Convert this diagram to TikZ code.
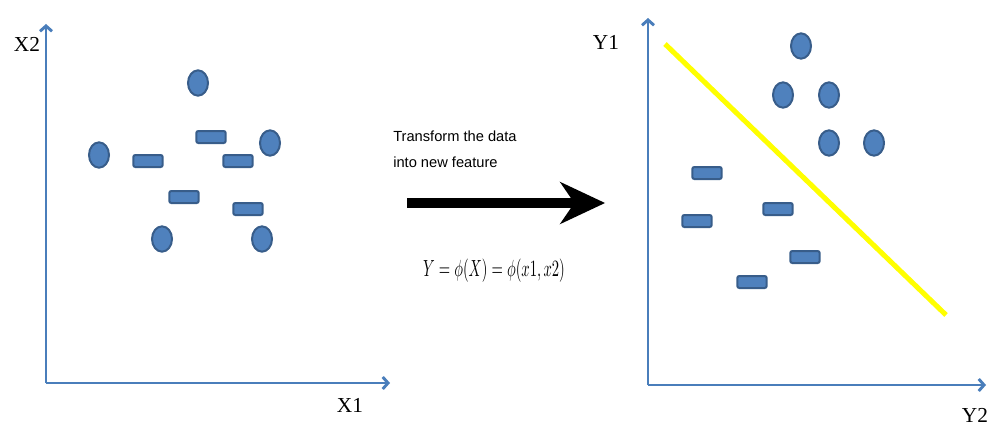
\documentclass[tikz,border=0pt]{standalone}
\usepackage{fontspec}
\setmainfont{Liberation Serif}
\setsansfont{Liberation Sans}
\usetikzlibrary{arrows.meta, shapes.geometric, positioning}

\begin{document}
\begin{tikzpicture}[x=0.75pt, y=-0.75pt,
  pt1/.style={ellipse, draw=borda, fill=ponto, line width=1.5pt, minimum width=15pt, minimum height=19pt, inner sep=0pt},
  pt2/.style={rectangle, rounded corners=1.5pt, draw=borda, fill=ponto, line width=1.5pt, minimum width=22pt, minimum height=9pt, inner sep=0pt},
  eixo/.style={draw=eixoC, line width=2.2pt, -{Straight Barb[length=4pt, width=9pt]}},
  rotulo/.style={font=\fontsize{16}{18}\selectfont}]
% --- CORES ---
\definecolor{eixoC}{HTML}{4A7EBB}
\definecolor{ponto}{HTML}{4F81BD}
\definecolor{borda}{HTML}{385D8A}
\definecolor{reta}{HTML}{FFFF00}

\useasboundingbox (0,0) rectangle (987,428);

% LAYER 1: Eixos da esquerda
\coordinate (oA) at (46,383);
\coordinate (xA) at (390,383);
\coordinate (yA) at (46,24);
\draw[eixo] (oA) -- (xA);
\draw[eixo] (oA) -- (yA);
\node[rotulo] (labX2) at (27,44) {X2};
\node[rotulo] (labX1) at (350,405) {X1};

% LAYER 2: Dados originais
\node[pt1] (a1) at (198,83) {};
\node[pt1] (a2) at (99,155) {};
\node[pt1] (a3) at (270,143) {};
\node[pt1] (a4) at (162,239) {};
\node[pt1] (a5) at (262,239) {};
\node[pt2] (b1) at (148,161) {};
\node[pt2] (b2) at (211,137) {};
\node[pt2] (b3) at (238,161) {};
\node[pt2] (b4) at (184,197) {};
\node[pt2] (b5) at (248,209) {};

% LAYER 3: Seta da transformacao
\node[font=\sffamily\fontsize{11}{13}\selectfont, anchor=base west, inner sep=0pt] (txt1) at (393,141) {Transform the data};
\node[font=\sffamily\fontsize{11}{13}\selectfont, anchor=base west, inner sep=0pt] (txt2) at (393,167) {into new feature};
\coordinate (setaI) at (407,203);
\coordinate (setaF) at (605,203);
\draw[line width=8pt, -{Stealth[length=34pt, width=32pt, inset=11pt, line width=0pt]}] (setaI) -- (setaF);
\node[yscale=1.6, font=\fontsize{11}{13}\selectfont] (form) at (494,271) {$Y = \phi(X) = \phi(x1, x2)$};

% LAYER 4: Eixos da direita
\coordinate (oB) at (648,385);
\coordinate (xB) at (986,385);
\coordinate (yB) at (648,18);
\draw[eixo] (oB) -- (xB);
\draw[eixo] (oB) -- (yB);
\node[rotulo] (labY1) at (606,42) {Y1};
\node[rotulo] (labY2) at (975,415) {Y2};

% LAYER 5: Dados no novo espaco
\node[pt1] (c1) at (801,46) {};
\node[pt1] (c2) at (783,95) {};
\node[pt1] (c3) at (829,95) {};
\node[pt1] (c4) at (829,143) {};
\node[pt1] (c5) at (874,143) {};
\node[pt2] (d1) at (707,173) {};
\node[pt2] (d2) at (697,221) {};
\node[pt2] (d3) at (778,209) {};
\node[pt2] (d4) at (805,257) {};
\node[pt2] (d5) at (752,282) {};

% LAYER 6: Reta separadora
\coordinate (r1) at (665,44);
\coordinate (r2) at (946,315);
\draw[reta, line width=3.8pt] (r1) -- (r2);
\end{tikzpicture}
\end{document}
